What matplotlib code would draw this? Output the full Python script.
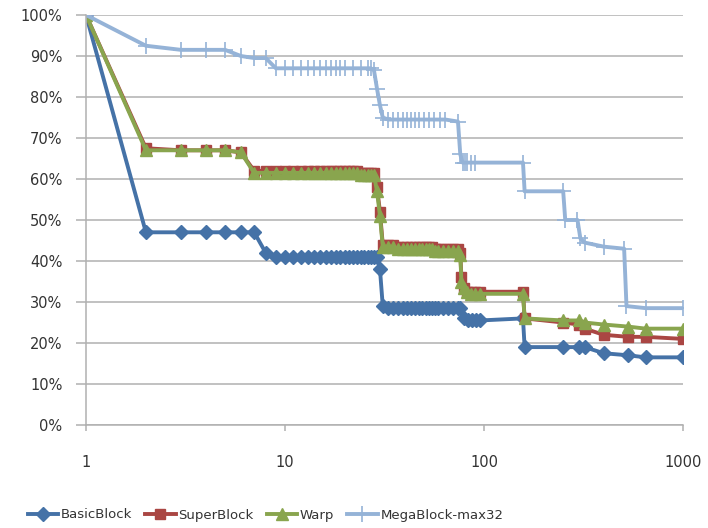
import matplotlib
matplotlib.use('Agg')
import matplotlib.pyplot as plt
from matplotlib.ticker import FixedLocator, FixedFormatter, NullLocator

# BasicBlock
bb_x = [1, 2, 3, 4, 5, 6, 7, 8, 9, 10, 11, 12, 13, 14, 15, 16, 17, 18, 19, 20,
        21, 22, 23, 24, 25, 26, 27, 28, 29, 30, 31, 33, 35, 37, 39, 41, 43, 45,
        47, 49, 51, 53, 55, 57, 59, 62, 66, 70, 74, 76, 79, 83, 87, 91, 96,
        157, 160, 250, 300, 320, 400, 530, 650, 1000]
bb_y = [100, 47, 47, 47, 47, 47, 47, 42, 41, 41, 41, 41, 41, 41, 41, 41, 41, 41, 41, 41,
        41, 41, 41, 41, 41, 41, 41, 41, 41, 38, 29, 28.5, 28.5, 28.5, 28.5, 28.5, 28.5, 28.5,
        28.5, 28.5, 28.5, 28.5, 28.5, 28.5, 28.5, 28.5, 28.5, 28.5, 28.5, 28.5, 26, 25.5, 25.5, 25.5, 25.5,
        26, 19, 19, 19, 19, 17.5, 17, 16.5, 16.5]

# SuperBlock and Warp share the same x points
sw_x = [1, 2, 3, 4, 5, 6, 7, 8, 9, 10, 11, 12, 13, 14, 15, 16, 17, 18, 19, 20,
        21, 22, 23, 24, 25, 26, 27, 28, 29, 30, 31, 33, 35, 37, 39, 41, 43, 45,
        47, 49, 51, 53, 55, 57, 59, 62, 66, 70, 74, 76, 77, 79, 82, 86, 90, 95,
        157, 160, 250, 300, 320, 400, 530, 650, 1000]
sb_y = [100, 67.5, 67, 67, 67, 66.5, 62, 62, 62, 62, 62, 62, 62, 62, 62, 62, 62, 62, 62, 62,
        62, 62, 62, 61.5, 61.5, 61.5, 61.5, 61.5, 58, 52, 44, 44, 44, 43.5, 43.5, 43.5, 43.5, 43.5,
        43.5, 43.5, 43.5, 43.5, 43.5, 43, 43, 43, 43, 43, 43, 42, 36, 33.5, 32.5, 32.5, 32.5, 32.5,
        32.5, 26, 25, 24.5, 23.5, 22, 21.5, 21.5, 21]
wp_y = [100, 67, 67, 67, 67, 66.5, 61.5, 61.5, 61.5, 61.5, 61.5, 61.5, 61.5, 61.5, 61.5, 61.5, 61.5, 61.5, 61.5, 61.5,
        61.5, 61.5, 61.5, 61, 61, 61, 61, 61, 57, 51, 43.5, 43.5, 43.5, 43, 43, 43, 43, 43,
        43, 43, 43, 43, 43, 42.5, 42.5, 42.5, 42.5, 42.5, 42.5, 41.5, 35, 33.5, 32.5, 32, 32, 32,
        32, 26, 25.5, 25.5, 25, 24.5, 24, 23.5, 23.5]

# MegaBlock-max32
mb_x = [1, 2, 3, 4, 5, 6, 7, 8, 9, 10, 11, 12, 13, 14, 15, 16, 17, 18, 19, 20,
        22, 24, 26, 27, 28, 29, 30, 31, 33, 35, 37, 39, 41, 43, 45, 47, 50, 53,
        56, 60, 64, 74, 76, 78, 80, 82, 86, 90, 157, 160, 250, 256, 295, 305, 320,
        400, 506, 520, 650, 1000]
mb_y = [100, 92.5, 91.5, 91.5, 91.5, 90, 89.5, 89.5, 87, 87, 87, 87, 87, 87, 87, 87, 87, 87, 87, 87,
        87, 87, 87, 87, 86.5, 82, 78, 75, 74.5, 74.5, 74.5, 74.5, 74.5, 74.5, 74.5, 74.5, 74.5, 74.5,
        74.5, 74.5, 74.5, 74, 66, 64, 64, 64, 64, 64, 64, 57, 57, 50, 50, 45.5, 44.5,
        43.5, 43, 29, 28.5, 28.5]

plt.rcParams['font.family'] = ['DejaVu Sans']
txt = '#333333'
grid_c = '#b0b0b0'

fig = plt.figure(figsize=(7.08, 5.28), dpi=100)
ax = fig.add_axes([86 / 708, 1 - 425 / 528, (683 - 86) / 708, (425 - 15) / 528])

ax.plot(bb_x, bb_y, color='#4572A7', lw=2.8, marker='D', ms=7.5, label='BasicBlock')
ax.plot(sw_x, sb_y, color='#AA4643', lw=2.8, marker='s', ms=7, label='SuperBlock')
ax.plot(sw_x, wp_y, color='#89A54E', lw=2.8, marker='^', ms=8, label='Warp')
ax.plot(mb_x, mb_y, color='#95B3D7', lw=2.8, marker='+', ms=11, mew=1.2,
        label='MegaBlock-max32')

ax.set_xscale('log')
ax.set_xlim(1, 1000)
ax.set_ylim(0, 100)
ax.xaxis.set_major_locator(FixedLocator([1, 10, 100, 1000]))
ax.xaxis.set_major_formatter(FixedFormatter(['1', '10', '100', '1000']))
ax.xaxis.set_minor_locator(NullLocator())
ax.set_yticks(range(0, 101, 10))
ax.set_yticklabels(['%d%%' % v for v in range(0, 101, 10)])

ax.yaxis.grid(True, color=grid_c, lw=1.1)
ax.set_axisbelow(True)
for s in ['top', 'right']:
    ax.spines[s].set_visible(False)
for s in ['left', 'bottom']:
    ax.spines[s].set_color(grid_c)
    ax.spines[s].set_linewidth(1.1)
ax.tick_params(axis='y', length=7, width=1.1, color=grid_c, pad=10,
               labelsize=10.5, labelcolor=txt)
ax.tick_params(axis='x', length=4.5, width=1.1, color=grid_c, pad=17,
               labelsize=10.5, labelcolor=txt)

fig.legend(loc='center', bbox_to_anchor=(0.375, 1 - 515 / 528), ncol=4,
           frameon=False, fontsize=9.5, handlelength=2.3, handletextpad=0.2,
           columnspacing=1.0, labelcolor=txt, borderaxespad=0)

fig.savefig('out.png', dpi=100)
